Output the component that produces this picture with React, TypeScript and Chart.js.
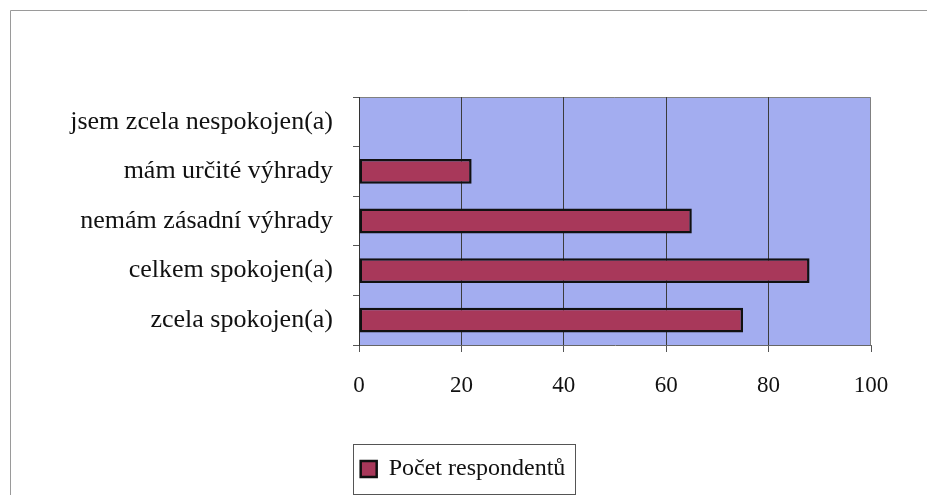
import React, { useEffect, useRef } from "react";
import { Chart, registerables } from "chart.js";

Chart.register(...registerables);

const categories = [
  "jsem zcela nespokojen(a)",
  "mám určité výhrady",
  "nemám zásadní výhrady",
  "celkem spokojen(a)",
  "zcela spokojen(a)",
];
const seriesLabel = "Počet respondentů";
const seriesValues = [0, 22, 65, 88, 75];
const xTicks = [0, 20, 40, 60, 80, 100];

const FONT = "'Liberation Serif', 'Times New Roman', serif";

export default function App() {
  const ref = useRef<HTMLCanvasElement | null>(null);

  useEffect(() => {
    if (!ref.current) return;
    const framePlugin = {
      id: "frame",
      beforeDraw(chart: any) {
        const ctx = chart.ctx;
        const a = chart.chartArea;
        ctx.save();
        ctx.fillStyle = "#ffffff";
        ctx.fillRect(0, 0, chart.width, chart.height);
        ctx.strokeStyle = "#9a9a9a";
        ctx.lineWidth = 1;
        ctx.beginPath();
        ctx.moveTo(10.5, chart.height);
        ctx.lineTo(10.5, 10.5);
        ctx.lineTo(chart.width, 10.5);
        ctx.stroke();
        ctx.fillStyle = "#a3adf0";
        ctx.fillRect(a.left, a.top, a.right - a.left, a.bottom - a.top);
        ctx.strokeStyle = "#808080";
        ctx.beginPath();
        ctx.moveTo(a.left, a.top + 0.5);
        ctx.lineTo(a.right - 0.5, a.top + 0.5);
        ctx.lineTo(a.right - 0.5, a.bottom);
        ctx.stroke();
        ctx.restore();
      },
      afterDraw(chart: any) {
        const ctx = chart.ctx;
        const hb = chart.legend && chart.legend.legendHitBoxes && chart.legend.legendHitBoxes[0];
        if (hb) {
          ctx.save();
          ctx.strokeStyle = "#555";
          ctx.lineWidth = 1;
          const l = Math.round(hb.left - 8) + 0.5;
          const r = Math.round(hb.left + hb.width + 10) + 0.5;
          const t = Math.round(hb.top - 13) + 0.5;
          const b = Math.round(hb.top + hb.height + 13) + 0.5;
          ctx.strokeRect(l, t, r - l, b - t);
          ctx.restore();
        }
      },
    };

    const chart = new Chart(ref.current, {
      type: "bar",
      data: {
        labels: categories,
        datasets: [
          {
            label: seriesLabel,
            data: seriesValues,
            backgroundColor: "#a8385a",
            borderColor: "#111111",
            borderWidth: 2.5,
            borderSkipped: false,
            categoryPercentage: 1,
            barPercentage: 0.5,
          },
        ],
      },
      options: {
        indexAxis: "y",
        animation: false,
        responsive: true,
        maintainAspectRatio: false,
        layout: { padding: { top: 97, right: 56, bottom: 4, left: 55 } },
        plugins: {
          title: { display: false },
          tooltip: { enabled: false },
          legend: {
            display: true,
            position: "bottom",
            labels: {
              font: { family: FONT, size: 24 },
              color: "#111",
              boxWidth: 16,
              boxHeight: 16,
              padding: 10,
            },
          },
        },
        scales: {
          x: {
            type: "linear",
            min: 0,
            max: 100,
            afterBuildTicks: (s: any) => {
              s.ticks = xTicks.map((v) => ({ value: v }));
            },
            afterFit: (s: any) => {
              s.height = 102;
            },
            ticks: {
              font: { family: FONT, size: 23 },
              color: "#111",
              padding: 20,
            },
            grid: {
              color: (c: any) => (c.tick && c.tick.value === 100 ? "rgba(0,0,0,0)" : "#3c3c3c"),
              lineWidth: 1,
              drawTicks: true,
              tickLength: 7,
              tickColor: "#555",
            },
            border: { display: true, color: "#666" },
          },
          y: {
            type: "category",
            offset: true,
            afterFit: (s: any) => {
              s.width = 304;
            },
            ticks: {
              font: { family: FONT, size: 26 },
              color: "#111",
              padding: 20,
            },
            grid: {
              offset: true,
              drawOnChartArea: false,
              drawTicks: true,
              tickLength: 6,
              tickColor: "#555",
            },
            border: { display: true, color: "#333" },
          },
        },
      },
      plugins: [framePlugin],
    });
    return () => chart.destroy();
  }, []);

  return (
    <div style={{ position: "fixed", left: 0, top: 0, width: 927, height: 495, background: "#fff" }}>
      <canvas ref={ref} />
    </div>
  );
}
